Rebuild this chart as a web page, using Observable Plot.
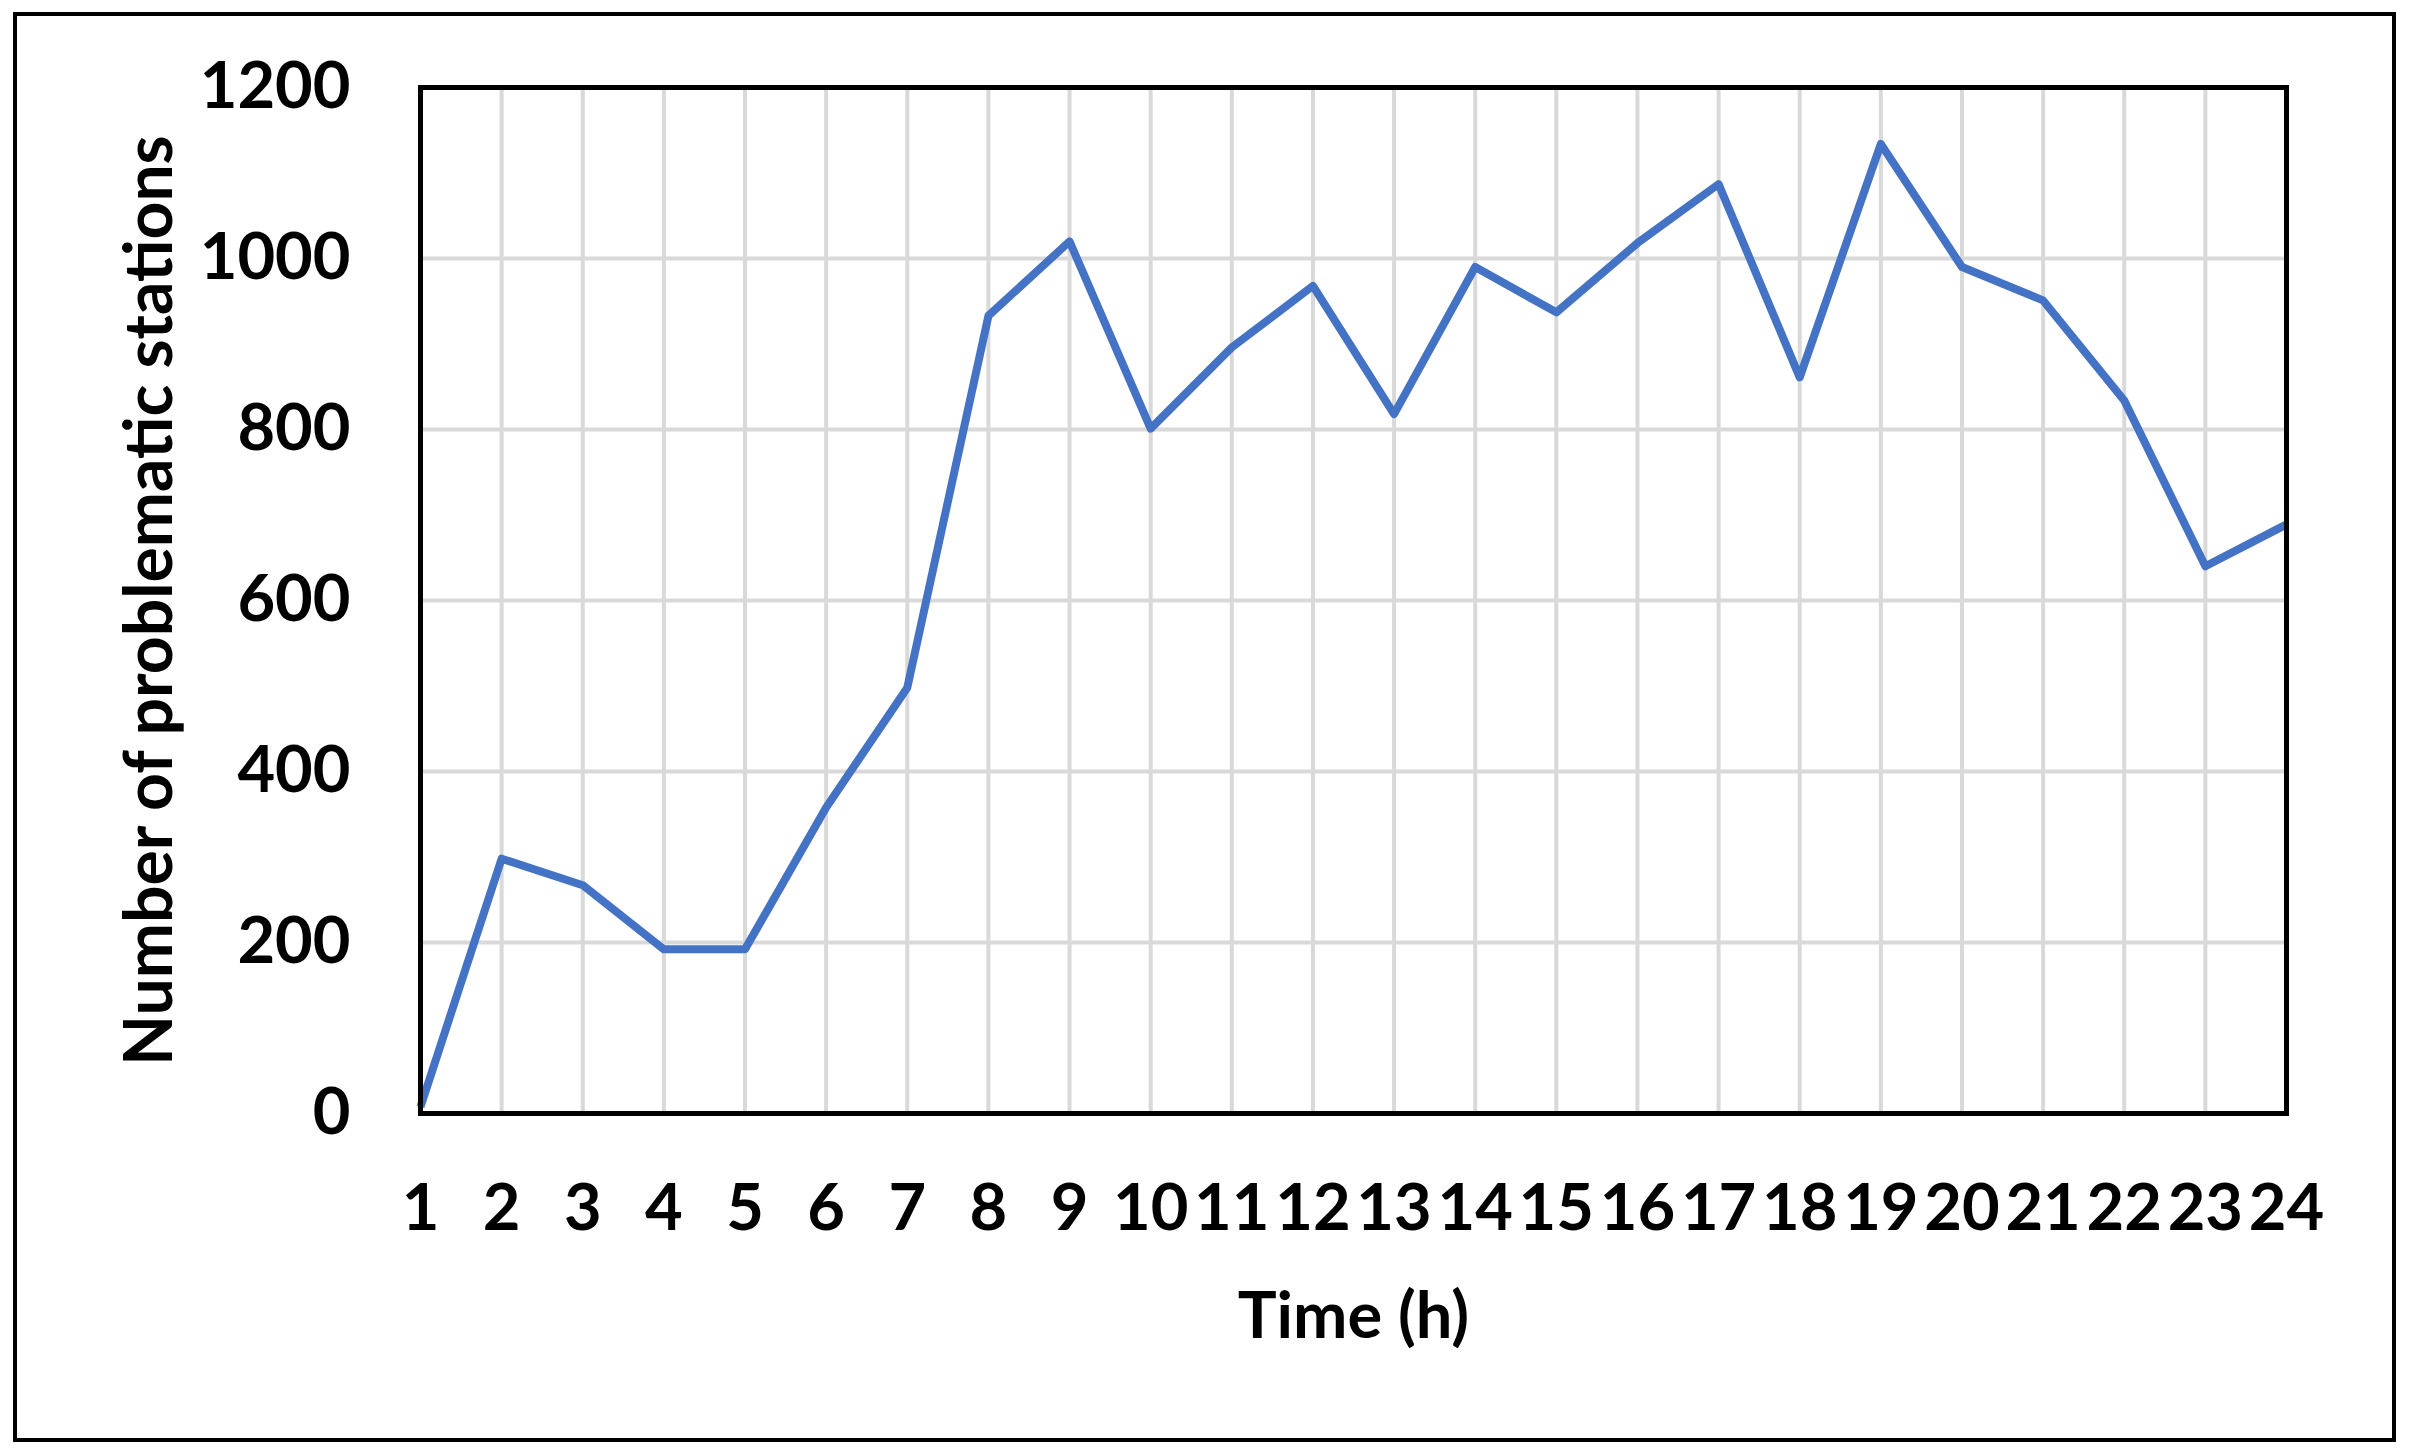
<!DOCTYPE html>
<html>
<head>
<meta charset="utf-8">
<script src="https://cdn.jsdelivr.net/npm/d3@7"></script>
<script src="https://cdn.jsdelivr.net/npm/@observablehq/plot@0.6"></script>
<style>
  html, body { margin: 0; padding: 0; background: #fff; }
  #wrap { position: relative; width: 2409px; height: 1455px; }
  #border { position: absolute; left: 13px; top: 12px; width: 2383px; height: 1430px;
            border: 4px solid #000; box-sizing: border-box; pointer-events: none; }
  #chart { position: absolute; left: 0; top: 0; }
</style>
</head>
<body>
<div id="wrap">
  <div id="chart"></div>
  <div id="border"></div>
</div>
<script>
const hours = [1,2,3,4,5,6,7,8,9,10,11,12,13,14,15,16,17,18,19,20,21,22,23,24];
const stations = [8,298,267,192,192,358,498,933,1020,801,896,968,818,990,937,1018,1087,861,1134,990,951,834,640,689];
const yTicks = [0,200,400,600,800,1000,1200];
const xTitle = "Time (h)";
const yTitle = "Number of problematic stations";

const data = hours.map((h, i) => ({hour: h, value: stations[i]}));

const chart = Plot.plot({
  width: 2409,
  height: 1455,
  marginLeft: 420,
  marginRight: 123,
  marginTop: 87,
  marginBottom: 342,
  style: {fontFamily: "Lato, 'Open Sans', sans-serif", fontSize: "65px", fontWeight: "bold", color: "#000", background: "transparent"},
  x: {domain: [1, 24], ticks: hours, tickSize: 0, tickPadding: 70, tickFormat: d => String(d), label: null},
  y: {domain: [0, 1200], ticks: yTicks, tickSize: 0, tickPadding: 70, tickFormat: d => String(d), label: null},
  marks: [
    Plot.gridX(hours, {stroke: "#d9d9d9", strokeOpacity: 1, strokeWidth: 4}),
    Plot.gridY(yTicks, {stroke: "#d9d9d9", strokeOpacity: 1, strokeWidth: 4}),
    Plot.line(data, {x: "hour", y: "value", stroke: "#4472C4", strokeWidth: 8, strokeLinejoin: "round", strokeLinecap: "butt"}),
    Plot.frame({stroke: "#000", strokeWidth: 5}),
    Plot.text([xTitle], {frameAnchor: "bottom", dy: 204, text: d => d, fontSize: 65, fontWeight: "bold", lineAnchor: "middle", fill: "#000"}),
    Plot.text([yTitle], {frameAnchor: "left", dx: -270, rotate: -90, text: d => d, fontSize: 66, fontWeight: "bold", lineAnchor: "middle", textAnchor: "middle", fill: "#000"})
  ]
});
document.getElementById("chart").appendChild(chart);
</script>
</body>
</html>
